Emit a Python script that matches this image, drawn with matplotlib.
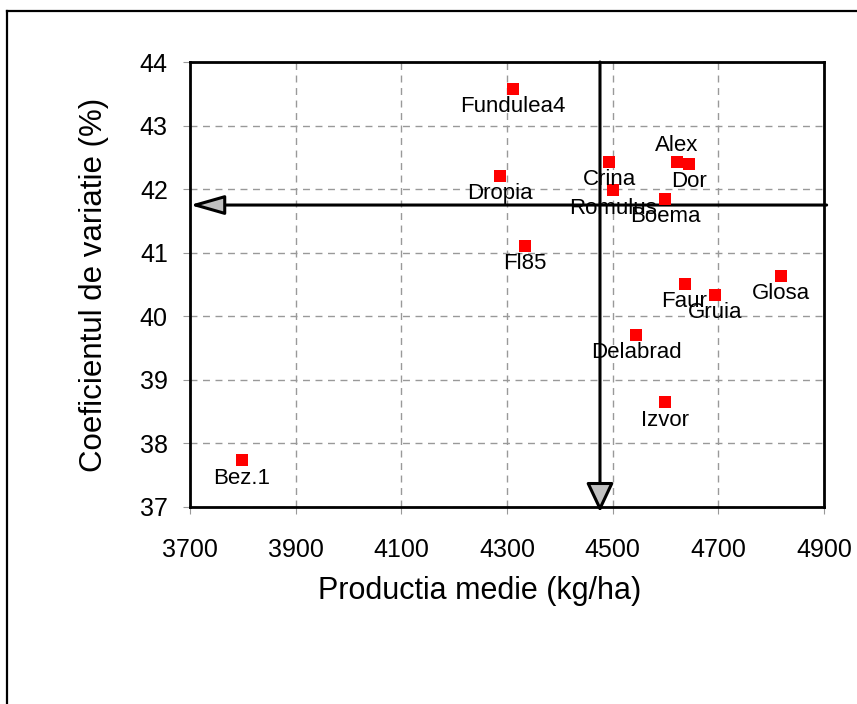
import matplotlib
matplotlib.use('Agg')
import matplotlib.pyplot as plt
from matplotlib.lines import Line2D

plt.rcParams['font.family'] = ['Liberation Sans', 'DejaVu Sans']

# soiuri: productia medie (kg/ha) si coeficientul de variatie (%)
names = ['Fundulea4', 'Dropia', 'Crina', 'Romulus', 'Alex', 'Dor', 'Boema',
         'Fl85', 'Faur', 'Gruia', 'Glosa', 'Delabrad', 'Izvor', 'Bez.1']
productia = [4311, 4286, 4494, 4501, 4621, 4644, 4599,
             4334, 4636, 4694, 4818, 4545, 4599, 3798]
cv = [43.58, 42.21, 42.43, 41.98, 42.43, 42.40, 41.85,
      41.11, 40.51, 40.34, 40.64, 39.71, 38.65, 37.74]
label_above = ['Alex']

mean_prod = 4476
mean_cv = 41.75

x_ticks = [3700, 3900, 4100, 4300, 4500, 4700, 4900]
y_ticks = [37, 38, 39, 40, 41, 42, 43, 44]

fig = plt.figure(figsize=(8.57, 7.04), dpi=100)
ax = fig.add_axes([190 / 857, 1 - 507 / 704, 634 / 857, 445 / 704])

# outer frame (only left and top edges visible)
fig.add_artist(Line2D([7 / 857, 7 / 857], [0, 1 - 11 / 704], color='black', lw=1.6,
                      transform=fig.transFigure))
fig.add_artist(Line2D([7 / 857, 1], [1 - 11 / 704, 1 - 11 / 704], color='black', lw=1.6,
                      transform=fig.transFigure))

ax.scatter(productia, cv, marker='s', s=80, color='#ff0000', zorder=5, linewidths=0)

for name, px, py in zip(names, productia, cv):
    if name in label_above:
        ax.annotate(name, (px, py), xytext=(0, 11.5), textcoords='offset points',
                    ha='center', va='center', fontsize=16, zorder=6)
    else:
        ax.annotate(name, (px, py), xytext=(0, -13), textcoords='offset points',
                    ha='center', va='center', fontsize=16, zorder=6)

# mean lines with arrows
ax.annotate('', xy=(3700, mean_cv), xytext=(4905, mean_cv),
            arrowprops=dict(arrowstyle='-|>,head_length=2.1,head_width=0.6',
                            facecolor='#c0c0c0', edgecolor='black', lw=2.2,
                            shrinkA=0, shrinkB=0),
            annotation_clip=False, zorder=4)
ax.annotate('', xy=(mean_prod, 36.92), xytext=(mean_prod, 44),
            arrowprops=dict(arrowstyle='-|>,head_length=1.8,head_width=0.85',
                            facecolor='#c0c0c0', edgecolor='black', lw=2.2,
                            shrinkA=0, shrinkB=0),
            annotation_clip=False, zorder=4)

ax.set_xlim(3700, 4900)
ax.set_ylim(37, 44)
ax.set_xticks(x_ticks)
ax.set_yticks(y_ticks)
ax.grid(True, color='#999999', linestyle=(0, (5, 4)), lw=1)
ax.set_axisbelow(True)
for s in ax.spines.values():
    s.set_linewidth(2)
    s.set_color('black')
ax.tick_params(direction='out', length=5, color='#999999', labelsize=18)
ax.tick_params(axis='x', pad=17)
ax.tick_params(axis='y', pad=11)

ax.set_xlabel('Productia medie (kg/ha)', fontsize=22, labelpad=10)
ax.xaxis.set_label_coords((480 - 190) / 634, -0.155)
ax.set_ylabel('Coeficientul de variatie (%)', fontsize=22.5, labelpad=22)

fig.savefig('out.png', dpi=100)
